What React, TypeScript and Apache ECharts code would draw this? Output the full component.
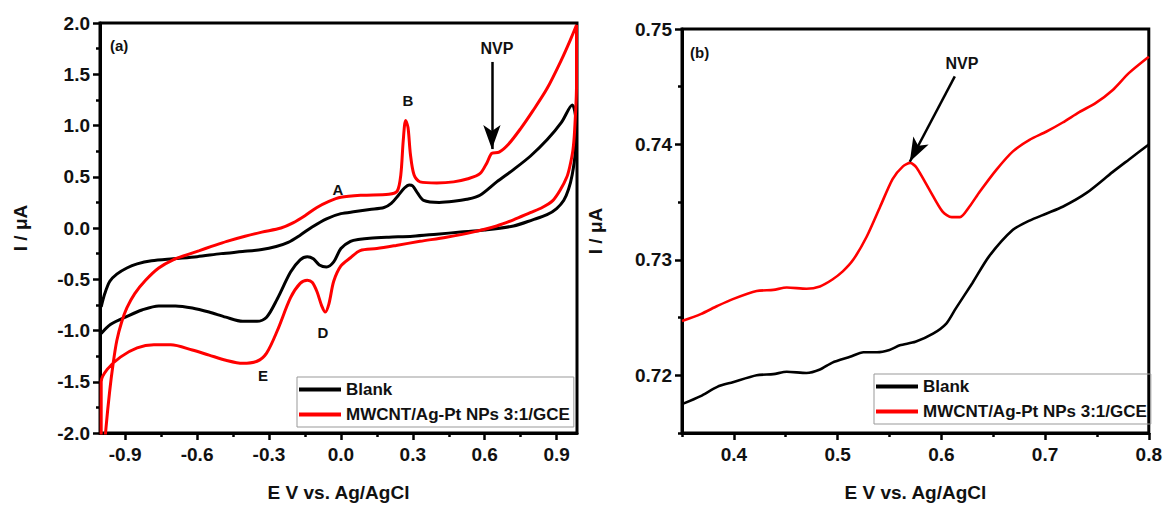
import React, { useEffect, useRef } from "react";
import * as echarts from "echarts";

// ---------- data ----------
const legendNames = ["Blank", "MWCNT/Ag-Pt NPs 3:1/GCE"];

// panel (a): cyclic voltammograms (closed loops), [E (V), I (uA)]
const blankCV: number[][] = [
  [-1.0, -0.77], [-0.985, -0.64], [-0.964, -0.52], [-0.935, -0.45], [-0.893, -0.39], [-0.85, -0.35],
  [-0.79, -0.32], [-0.7, -0.3], [-0.6, -0.28], [-0.5, -0.25], [-0.41, -0.23], [-0.33, -0.21],
  [-0.27, -0.18], [-0.22, -0.14], [-0.17, -0.07], [-0.12, 0.01], [-0.06, 0.09], [0.0, 0.14],
  [0.06, 0.16], [0.12, 0.18], [0.18, 0.2], [0.21, 0.24], [0.24, 0.32], [0.265, 0.39],
  [0.285, 0.42], [0.3, 0.41], [0.32, 0.34], [0.345, 0.27], [0.41, 0.25], [0.47, 0.26],
  [0.525, 0.28], [0.58, 0.32], [0.65, 0.45], [0.72, 0.57], [0.79, 0.7], [0.86, 0.86],
  [0.92, 1.03], [0.965, 1.2], [0.98, 1.05],
  [0.977, 0.72], [0.965, 0.52], [0.95, 0.38], [0.93, 0.27], [0.9, 0.19], [0.86, 0.13],
  [0.8, 0.08], [0.72, 0.02], [0.6, -0.02], [0.5, -0.04], [0.4, -0.06], [0.3, -0.08],
  [0.2, -0.09], [0.12, -0.1], [0.08, -0.11], [0.04, -0.13], [0.0, -0.2], [-0.03, -0.33],
  [-0.06, -0.38], [-0.09, -0.36], [-0.115, -0.3], [-0.14, -0.28], [-0.17, -0.31], [-0.21, -0.43],
  [-0.265, -0.69], [-0.31, -0.87], [-0.35, -0.91], [-0.41, -0.91], [-0.48, -0.87], [-0.55, -0.82],
  [-0.62, -0.78], [-0.69, -0.76], [-0.76, -0.76], [-0.83, -0.8], [-0.89, -0.86], [-0.96, -0.94],
  [-1.0, -1.03],
];

const modifiedCV: number[][] = [
  [-0.992, -2.3], [-0.98, -1.95], [-0.965, -1.6], [-0.95, -1.32], [-0.935, -1.1], [-0.915, -0.92],
  [-0.893, -0.78], [-0.86, -0.64], [-0.815, -0.51], [-0.76, -0.39], [-0.7, -0.31], [-0.64, -0.26],
  [-0.59, -0.22], [-0.54, -0.18], [-0.476, -0.13], [-0.4, -0.08], [-0.33, -0.04], [-0.25, 0.0],
  [-0.2, 0.05], [-0.15, 0.12], [-0.1, 0.2], [-0.05, 0.26], [0.0, 0.3], [0.09, 0.32],
  [0.2, 0.33], [0.235, 0.36], [0.25, 0.52], [0.26, 0.85], [0.27, 1.05], [0.28, 0.98],
  [0.29, 0.72], [0.305, 0.52], [0.33, 0.45], [0.4, 0.44], [0.47, 0.45], [0.53, 0.48],
  [0.58, 0.53], [0.61, 0.64], [0.63, 0.73], [0.66, 0.74], [0.7, 0.82], [0.75, 0.97],
  [0.8, 1.14], [0.86, 1.36], [0.92, 1.64], [0.96, 1.85], [0.983, 1.98],
  [0.983, 1.4], [0.975, 0.95], [0.968, 0.76], [0.955, 0.6], [0.943, 0.5], [0.915, 0.37],
  [0.885, 0.27], [0.84, 0.2], [0.79, 0.15], [0.72, 0.08], [0.65, 0.02], [0.55, -0.04],
  [0.44, -0.09], [0.33, -0.13], [0.23, -0.17], [0.15, -0.2], [0.08, -0.22], [0.04, -0.29],
  [0.0, -0.37], [-0.03, -0.52], [-0.05, -0.74], [-0.065, -0.82], [-0.08, -0.76], [-0.1, -0.62],
  [-0.12, -0.53], [-0.14, -0.51], [-0.17, -0.54], [-0.21, -0.68], [-0.265, -1.0], [-0.31, -1.22],
  [-0.35, -1.3], [-0.41, -1.32], [-0.48, -1.29], [-0.55, -1.24], [-0.62, -1.19], [-0.71, -1.14],
  [-0.78, -1.14], [-0.85, -1.17], [-0.92, -1.26], [-0.975, -1.38], [-1.0, -1.5], [-1.0, -2.3],
];

// panel (b): zoom on the NVP region
const blankZoom: number[][] = [
  [0.35, 0.7175], [0.368, 0.7182], [0.384, 0.719], [0.399, 0.7194], [0.422, 0.72], [0.438, 0.7201],
  [0.451, 0.7203], [0.47, 0.7202], [0.483, 0.7205], [0.495, 0.7211], [0.512, 0.7216], [0.525, 0.722],
  [0.538, 0.722], [0.55, 0.7222], [0.56, 0.7226], [0.575, 0.7229], [0.592, 0.7236], [0.605, 0.7245],
  [0.614, 0.7258], [0.63, 0.728], [0.646, 0.7303], [0.669, 0.7326], [0.685, 0.7334], [0.701, 0.734],
  [0.717, 0.7346], [0.74, 0.7358], [0.765, 0.7376], [0.781, 0.7387], [0.8, 0.74],
];
const modifiedZoom: number[][] = [
  [0.35, 0.7247], [0.368, 0.7253], [0.384, 0.726], [0.399, 0.7266], [0.422, 0.7273], [0.438, 0.7274],
  [0.451, 0.7276], [0.47, 0.7275], [0.483, 0.7277], [0.495, 0.7283], [0.505, 0.729], [0.515, 0.73],
  [0.528, 0.732], [0.541, 0.7346], [0.553, 0.737], [0.563, 0.7381], [0.57, 0.7384], [0.576, 0.738],
  [0.589, 0.736], [0.601, 0.7342], [0.61, 0.7337], [0.618, 0.7337], [0.627, 0.7346], [0.637, 0.7359],
  [0.653, 0.7378], [0.669, 0.7394], [0.685, 0.7404], [0.701, 0.7411], [0.717, 0.7419], [0.733, 0.7428],
  [0.749, 0.7436], [0.765, 0.7447], [0.781, 0.7462], [0.8, 0.7476],
];

// ticks
const xMajorA = [-0.9, -0.6, -0.3, 0.0, 0.3, 0.6, 0.9];
const xMinorA = [-0.75, -0.45, -0.15, 0.15, 0.45, 0.75];
const xMajorB = [0.4, 0.5, 0.6, 0.7, 0.8];
const xMinorB = [0.35, 0.45, 0.55, 0.65, 0.75];
const yMajorB = [0.72, 0.73, 0.74, 0.75];
const yMinorB = [0.715, 0.725, 0.735, 0.745];

// annotation arrows [from, to]
const arrowA = [[0.63, 1.62], [0.63, 0.77]];
const arrowB = [[0.613, 0.7459], [0.5696, 0.7385]];

const FONT = "Liberation Sans";
const BLACK = "#000";
const RED = "#ff0000";

const tickLabel = { fontSize: 19, fontWeight: "bold", color: "#111", fontFamily: FONT };
const nameStyle = { fontSize: 19, fontWeight: "bold", color: "#111", fontFamily: FONT };
const axisLine = { show: true, onZero: false, lineStyle: { color: BLACK, width: 3 } };
const majorTick = { lineStyle: { color: BLACK, width: 2.5 }, length: 7 };
const minorTickStyle = { lineStyle: { color: BLACK, width: 2.5 }, length: 4 };

export default function App() {
  const ref = useRef<HTMLDivElement>(null);
  useEffect(() => {
    if (!ref.current) return;
    const chart = echarts.init(ref.current, null, { renderer: "svg" });

    const minorX = (gridIndex: number, min: number, max: number, vals: number[]) => ({
      gridIndex, type: "value", min, max, position: "bottom",
      axisLine: { show: false, onZero: false }, axisLabel: { show: false }, splitLine: { show: false },
      axisTick: { show: true, customValues: vals, ...minorTickStyle },
    });

    const arrowLine = (pts: number[][]) => ({
      silent: true,
      symbol: ["none", "arrow"],
      symbolSize: [13, 24],
      label: { show: false },
      lineStyle: { color: BLACK, width: 2.5, type: "solid" },
      emphasis: { disabled: true },
      data: [[{ coord: pts[0] }, { coord: pts[1] }]],
    });

    const legendBase = {
      data: legendNames,
      orient: "vertical",
      itemWidth: 42,
      itemHeight: 4,
      icon: "rect",
      itemGap: 8,
      padding: [4, 4, 4, 2],
      borderColor: "#999",
      borderWidth: 1,
      selectedMode: false,
      textStyle: { fontSize: 17, fontWeight: "bold", color: "#111", fontFamily: FONT },
    };

    const annot = (text: string, x: number, y: number, size = 15) => ({
      type: "text", x, y,
      style: { text, fontSize: size, fontWeight: "bold", fill: "#111", fontFamily: FONT, textAlign: "center", textVerticalAlign: "middle" },
    });

    const option: any = {
      animation: false,
      backgroundColor: "#fff",
      grid: [
        { left: 100, top: 23, width: 477, height: 410, show: true, borderColor: BLACK, borderWidth: 3, backgroundColor: "transparent" },
        { left: 682, top: 29, width: 467, height: 404, show: true, borderColor: BLACK, borderWidth: 3, backgroundColor: "transparent" },
      ],
      xAxis: [
        {
          gridIndex: 0, type: "value", min: -1.005, max: 0.985, position: "bottom",
          axisLine, splitLine: { show: false },
          axisTick: { show: true, customValues: xMajorA, ...majorTick },
          axisLabel: { customValues: xMajorA, formatter: (v: number) => v.toFixed(1), margin: 12, ...tickLabel },
          name: "E V vs. Ag/AgCl", nameLocation: "middle", nameGap: 50, nameTextStyle: nameStyle,
        },
        minorX(0, -1.005, 0.985, xMinorA),
        {
          gridIndex: 1, type: "value", min: 0.35, max: 0.8, position: "bottom",
          axisLine, splitLine: { show: false },
          axisTick: { show: true, customValues: xMajorB, ...majorTick },
          axisLabel: { customValues: xMajorB, formatter: (v: number) => v.toFixed(1), margin: 12, ...tickLabel },
          name: "E V vs. Ag/AgCl", nameLocation: "middle", nameGap: 50, nameTextStyle: nameStyle,
        },
        minorX(1, 0.35, 0.8, xMinorB),
      ],
      yAxis: [
        {
          gridIndex: 0, type: "value", min: -2, max: 2, interval: 0.5, position: "left",
          axisLine, splitLine: { show: false },
          axisTick: { show: true, ...majorTick },
          minorTick: { show: true, splitNumber: 2, ...minorTickStyle },
          minorSplitLine: { show: false },
          axisLabel: { formatter: (v: number) => v.toFixed(1), margin: 10, ...tickLabel },
          name: "I / μA", nameLocation: "middle", nameGap: 70, nameRotate: 90, nameTextStyle: nameStyle,
        },
        {
          gridIndex: 1, type: "value", min: 0.715, max: 0.75, position: "left",
          axisLine, splitLine: { show: false },
          axisTick: { show: true, customValues: yMajorB, ...majorTick },
          axisLabel: { customValues: yMajorB, formatter: (v: number) => v.toFixed(2), margin: 10, ...tickLabel },
          name: "I / μA", nameLocation: "middle", nameGap: 77, nameRotate: 90, nameTextStyle: nameStyle,
        },
        {
          gridIndex: 1, type: "value", min: 0.715, max: 0.75, position: "left",
          axisLine: { show: false, onZero: false }, axisLabel: { show: false }, splitLine: { show: false },
          axisTick: { show: true, customValues: yMinorB, ...minorTickStyle },
        },
      ],
      legend: [
        { ...legendBase, left: 297, top: 377 },
        { ...legendBase, left: 874, top: 374 },
      ],
      series: [
        {
          name: legendNames[0], type: "line", xAxisIndex: 0, yAxisIndex: 0, data: blankCV,
          showSymbol: false, smooth: 0.3, lineStyle: { color: BLACK, width: 3 }, itemStyle: { color: BLACK },
        },
        {
          name: legendNames[1], type: "line", xAxisIndex: 0, yAxisIndex: 0, data: modifiedCV,
          showSymbol: false, smooth: 0.3, lineStyle: { color: RED, width: 3 }, itemStyle: { color: RED },
          markLine: arrowLine(arrowA),
        },
        {
          name: legendNames[0], type: "line", xAxisIndex: 2, yAxisIndex: 1, data: blankZoom,
          showSymbol: false, smooth: 0.25, lineStyle: { color: BLACK, width: 2.6 }, itemStyle: { color: BLACK },
        },
        {
          name: legendNames[1], type: "line", xAxisIndex: 2, yAxisIndex: 1, data: modifiedZoom,
          showSymbol: false, smooth: 0.25, lineStyle: { color: RED, width: 2.6 }, itemStyle: { color: RED },
          markLine: arrowLine(arrowB),
        },
      ],
      graphic: [
        { type: "text", left: 110, top: 38, style: { text: "(a)", fontSize: 15, fontWeight: "bold", fill: "#111", fontFamily: FONT } },
        { type: "text", left: 690, top: 45, style: { text: "(b)", fontSize: 15, fontWeight: "bold", fill: "#111", fontFamily: FONT } },
        annot("A", 338, 189),
        annot("B", 408, 100),
        annot("NVP", 497, 48, 16),
        annot("D", 323, 332),
        annot("E", 263, 375),
        annot("NVP", 962, 63, 16),
      ],
    };
    chart.setOption(option);
    return () => chart.dispose();
  }, []);
  return <div ref={ref} style={{ position: "absolute", left: 0, top: 0, width: 1165, height: 511 }} />;
}
